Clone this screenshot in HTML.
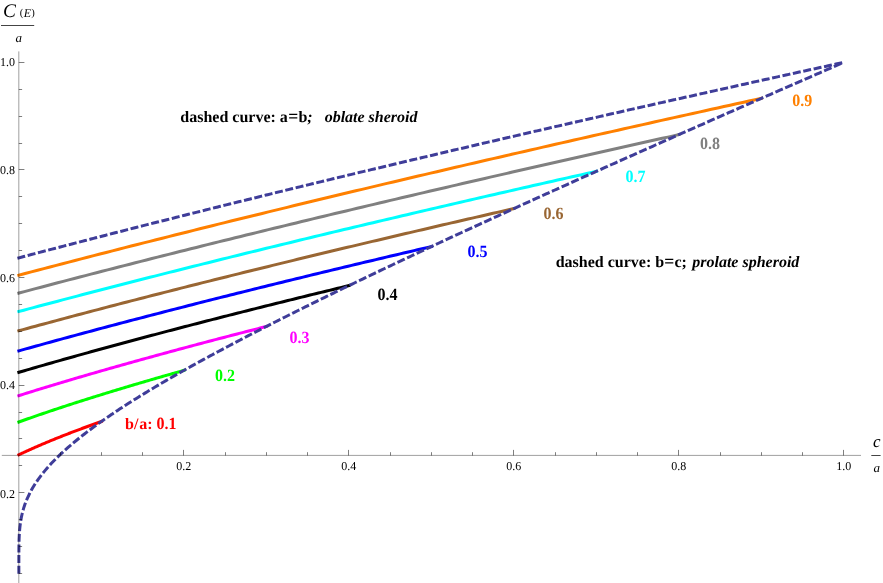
<!DOCTYPE html>
<html><head><meta charset="utf-8"><title>Capacitance of ellipsoid</title>
<style>
html,body{margin:0;padding:0;background:#fff;}
body{width:883px;height:583px;overflow:hidden;font-family:"Liberation Serif",serif;}
svg{display:block;will-change:transform;text-rendering:geometricPrecision;}
text{font-family:"Liberation Serif",serif;white-space:pre;}
.t{font-size:12px;fill:#000;}
.b{font-size:16px;font-weight:bold;}
.bi{font-style:italic;font-weight:bold;}
.i{font-style:italic;fill:#000;}
.r{fill:#000;}
</style></head>
<body>
<svg width="883" height="583" viewBox="0 0 883 583">
<rect width="883" height="583" fill="#ffffff"/>
<path d="M18.85,454.77 L19.54,454.44 L20.24,454.11 L20.93,453.79 L21.62,453.46 L22.32,453.13 L23.01,452.81 L23.70,452.49 L24.40,452.17 L25.09,451.85 L25.78,451.53 L26.48,451.21 L27.17,450.89 L27.86,450.57 L28.56,450.26 L29.25,449.95 L29.94,449.63 L30.64,449.32 L31.33,449.01 L32.02,448.70 L32.72,448.39 L33.41,448.09 L34.10,447.78 L34.80,447.47 L35.49,447.17 L36.18,446.87 L36.88,446.56 L37.57,446.26 L38.26,445.96 L38.96,445.66 L39.65,445.36 L40.34,445.07 L41.03,444.77 L41.73,444.47 L42.42,444.18 L43.11,443.88 L43.81,443.59 L44.50,443.30 L45.19,443.01 L45.89,442.71 L46.58,442.42 L47.27,442.13 L47.97,441.85 L48.66,441.56 L49.35,441.27 L50.05,440.98 L50.74,440.70 L51.43,440.41 L52.13,440.13 L52.82,439.85 L53.51,439.56 L54.21,439.28 L54.90,439.00 L55.59,438.72 L56.29,438.44 L56.98,438.16 L57.67,437.88 L58.37,437.61 L59.06,437.33 L59.75,437.05 L60.45,436.78 L61.14,436.50 L61.83,436.23 L62.53,435.96 L63.22,435.68 L63.91,435.41 L64.61,435.14 L65.30,434.87 L65.99,434.60 L66.69,434.33 L67.38,434.06 L68.07,433.79 L68.77,433.52 L69.46,433.25 L70.15,432.99 L70.85,432.72 L71.54,432.45 L72.23,432.19 L72.93,431.92 L73.62,431.66 L74.31,431.40 L75.01,431.13 L75.70,430.87 L76.39,430.61 L77.09,430.35 L77.78,430.09 L78.47,429.83 L79.17,429.57 L79.86,429.31 L80.55,429.05 L81.24,428.79 L81.94,428.53 L82.63,428.28 L83.32,428.02 L84.02,427.76 L84.71,427.51 L85.40,427.25 L86.10,427.00 L86.79,426.75 L87.48,426.49 L88.18,426.24 L88.87,425.99 L89.56,425.73 L90.26,425.48 L90.95,425.23 L91.64,424.98 L92.34,424.73 L93.03,424.48 L93.72,424.23 L94.42,423.98 L95.11,423.73 L95.80,423.48 L96.50,423.23 L97.19,422.99 L97.88,422.74 L98.58,422.49 L99.27,422.25 L99.96,422.00 L100.66,421.76 L101.35,421.51" fill="none" stroke="#ff0000" stroke-width="3.0" stroke-linejoin="round" stroke-linecap="square"/>
<path d="M18.85,421.97 L20.24,421.48 L21.62,420.98 L23.01,420.49 L24.40,420.00 L25.78,419.51 L27.17,419.02 L28.56,418.53 L29.94,418.05 L31.33,417.56 L32.72,417.08 L34.10,416.60 L35.49,416.12 L36.88,415.64 L38.26,415.17 L39.65,414.69 L41.03,414.22 L42.42,413.74 L43.81,413.27 L45.19,412.80 L46.58,412.33 L47.97,411.86 L49.35,411.40 L50.74,410.93 L52.13,410.47 L53.51,410.00 L54.90,409.54 L56.29,409.08 L57.67,408.62 L59.06,408.16 L60.45,407.71 L61.83,407.25 L63.22,406.79 L64.61,406.34 L65.99,405.89 L67.38,405.44 L68.77,404.98 L70.15,404.53 L71.54,404.09 L72.93,403.64 L74.31,403.19 L75.70,402.75 L77.09,402.30 L78.47,401.86 L79.86,401.41 L81.24,400.97 L82.63,400.53 L84.02,400.09 L85.40,399.65 L86.79,399.21 L88.18,398.78 L89.56,398.34 L90.95,397.90 L92.34,397.47 L93.72,397.04 L95.11,396.60 L96.50,396.17 L97.88,395.74 L99.27,395.31 L100.66,394.88 L102.04,394.45 L103.43,394.02 L104.82,393.60 L106.20,393.17 L107.59,392.75 L108.98,392.32 L110.36,391.90 L111.75,391.47 L113.14,391.05 L114.52,390.63 L115.91,390.21 L117.30,389.79 L118.68,389.37 L120.07,388.95 L121.46,388.53 L122.84,388.12 L124.23,387.70 L125.61,387.29 L127.00,386.87 L128.39,386.46 L129.77,386.04 L131.16,385.63 L132.55,385.22 L133.93,384.81 L135.32,384.40 L136.71,383.99 L138.09,383.58 L139.48,383.17 L140.87,382.76 L142.25,382.35 L143.64,381.95 L145.03,381.54 L146.41,381.13 L147.80,380.73 L149.19,380.32 L150.57,379.92 L151.96,379.52 L153.35,379.12 L154.73,378.71 L156.12,378.31 L157.51,377.91 L158.89,377.51 L160.28,377.11 L161.67,376.71 L163.05,376.31 L164.44,375.92 L165.82,375.52 L167.21,375.12 L168.60,374.73 L169.98,374.33 L171.37,373.94 L172.76,373.54 L174.14,373.15 L175.53,372.76 L176.92,372.36 L178.30,371.97 L179.69,371.58 L181.08,371.19 L182.46,370.80 L183.85,370.41" fill="none" stroke="#00ff00" stroke-width="3.0" stroke-linejoin="round" stroke-linecap="square"/>
<path d="M18.85,395.61 L20.93,394.96 L23.01,394.31 L25.09,393.66 L27.17,393.01 L29.25,392.36 L31.33,391.72 L33.41,391.07 L35.49,390.43 L37.57,389.79 L39.65,389.15 L41.73,388.52 L43.81,387.88 L45.89,387.25 L47.97,386.62 L50.05,385.99 L52.13,385.36 L54.21,384.73 L56.29,384.11 L58.37,383.48 L60.45,382.86 L62.53,382.24 L64.61,381.62 L66.69,381.00 L68.77,380.38 L70.85,379.76 L72.93,379.15 L75.01,378.54 L77.09,377.93 L79.17,377.31 L81.24,376.71 L83.32,376.10 L85.40,375.49 L87.48,374.89 L89.56,374.28 L91.64,373.68 L93.72,373.08 L95.80,372.48 L97.88,371.88 L99.96,371.28 L102.04,370.68 L104.12,370.09 L106.20,369.49 L108.28,368.90 L110.36,368.30 L112.44,367.71 L114.52,367.12 L116.60,366.53 L118.68,365.95 L120.76,365.36 L122.84,364.77 L124.92,364.19 L127.00,363.60 L129.08,363.02 L131.16,362.44 L133.24,361.86 L135.32,361.28 L137.40,360.70 L139.48,360.12 L141.56,359.55 L143.64,358.97 L145.72,358.40 L147.80,357.82 L149.88,357.25 L151.96,356.68 L154.04,356.11 L156.12,355.53 L158.20,354.97 L160.28,354.40 L162.36,353.83 L164.44,353.26 L166.52,352.70 L168.60,352.13 L170.68,351.57 L172.76,351.01 L174.84,350.44 L176.92,349.88 L179.00,349.32 L181.08,348.76 L183.16,348.20 L185.24,347.64 L187.32,347.09 L189.40,346.53 L191.48,345.98 L193.56,345.42 L195.64,344.87 L197.72,344.31 L199.80,343.76 L201.88,343.21 L203.96,342.66 L206.03,342.11 L208.11,341.56 L210.19,341.01 L212.27,340.46 L214.35,339.91 L216.43,339.37 L218.51,338.82 L220.59,338.28 L222.67,337.73 L224.75,337.19 L226.83,336.65 L228.91,336.10 L230.99,335.56 L233.07,335.02 L235.15,334.48 L237.23,333.94 L239.31,333.40 L241.39,332.87 L243.47,332.33 L245.55,331.79 L247.63,331.26 L249.71,330.72 L251.79,330.19 L253.87,329.65 L255.95,329.12 L258.03,328.59 L260.11,328.05 L262.19,327.52 L264.27,326.99 L266.35,326.46" fill="none" stroke="#ff00ff" stroke-width="3.0" stroke-linejoin="round" stroke-linecap="square"/>
<path d="M18.85,372.31 L21.62,371.50 L24.40,370.69 L27.17,369.89 L29.94,369.08 L32.72,368.28 L35.49,367.48 L38.26,366.68 L41.03,365.88 L43.81,365.08 L46.58,364.29 L49.35,363.50 L52.13,362.71 L54.90,361.92 L57.67,361.13 L60.45,360.35 L63.22,359.56 L65.99,358.78 L68.77,358.00 L71.54,357.23 L74.31,356.45 L77.09,355.67 L79.86,354.90 L82.63,354.13 L85.40,353.36 L88.18,352.59 L90.95,351.82 L93.72,351.06 L96.50,350.29 L99.27,349.53 L102.04,348.77 L104.82,348.01 L107.59,347.25 L110.36,346.50 L113.14,345.74 L115.91,344.99 L118.68,344.24 L121.46,343.49 L124.23,342.74 L127.00,341.99 L129.77,341.24 L132.55,340.50 L135.32,339.75 L138.09,339.01 L140.87,338.27 L143.64,337.53 L146.41,336.79 L149.19,336.05 L151.96,335.31 L154.73,334.58 L157.51,333.84 L160.28,333.11 L163.05,332.38 L165.82,331.65 L168.60,330.92 L171.37,330.19 L174.14,329.46 L176.92,328.74 L179.69,328.01 L182.46,327.29 L185.24,326.57 L188.01,325.84 L190.78,325.12 L193.56,324.40 L196.33,323.69 L199.10,322.97 L201.88,322.25 L204.65,321.54 L207.42,320.82 L210.19,320.11 L212.97,319.40 L215.74,318.69 L218.51,317.98 L221.29,317.27 L224.06,316.56 L226.83,315.86 L229.61,315.15 L232.38,314.45 L235.15,313.74 L237.93,313.04 L240.70,312.34 L243.47,311.64 L246.24,310.94 L249.02,310.24 L251.79,309.54 L254.56,308.84 L257.34,308.15 L260.11,307.45 L262.88,306.76 L265.66,306.06 L268.43,305.37 L271.20,304.68 L273.98,303.99 L276.75,303.30 L279.52,302.61 L282.30,301.92 L285.07,301.23 L287.84,300.54 L290.61,299.86 L293.39,299.17 L296.16,298.49 L298.93,297.81 L301.71,297.12 L304.48,296.44 L307.25,295.76 L310.03,295.08 L312.80,294.40 L315.57,293.72 L318.35,293.05 L321.12,292.37 L323.89,291.69 L326.67,291.02 L329.44,290.34 L332.21,289.67 L334.98,289.00 L337.76,288.32 L340.53,287.65 L343.30,286.98 L346.08,286.31 L348.85,285.64" fill="none" stroke="#000000" stroke-width="3.0" stroke-linejoin="round" stroke-linecap="square"/>
<path d="M18.85,350.87 L22.32,349.90 L25.78,348.93 L29.25,347.97 L32.72,347.00 L36.18,346.04 L39.65,345.08 L43.11,344.12 L46.58,343.17 L50.05,342.21 L53.51,341.26 L56.98,340.31 L60.45,339.37 L63.91,338.42 L67.38,337.48 L70.85,336.54 L74.31,335.60 L77.78,334.66 L81.24,333.72 L84.71,332.79 L88.18,331.86 L91.64,330.93 L95.11,330.00 L98.58,329.07 L102.04,328.15 L105.51,327.23 L108.98,326.31 L112.44,325.39 L115.91,324.47 L119.38,323.55 L122.84,322.64 L126.31,321.73 L129.77,320.82 L133.24,319.91 L136.71,319.00 L140.17,318.09 L143.64,317.19 L147.11,316.29 L150.57,315.39 L154.04,314.49 L157.51,313.59 L160.97,312.69 L164.44,311.80 L167.90,310.90 L171.37,310.01 L174.84,309.12 L178.30,308.23 L181.77,307.34 L185.24,306.46 L188.70,305.57 L192.17,304.69 L195.64,303.80 L199.10,302.92 L202.57,302.04 L206.03,301.17 L209.50,300.29 L212.97,299.41 L216.43,298.54 L219.90,297.67 L223.37,296.80 L226.83,295.93 L230.30,295.06 L233.77,294.19 L237.23,293.32 L240.70,292.46 L244.17,291.59 L247.63,290.73 L251.10,289.87 L254.56,289.01 L258.03,288.15 L261.50,287.29 L264.96,286.44 L268.43,285.58 L271.90,284.73 L275.36,283.87 L278.83,283.02 L282.30,282.17 L285.76,281.32 L289.23,280.47 L292.69,279.62 L296.16,278.78 L299.63,277.93 L303.09,277.09 L306.56,276.25 L310.03,275.40 L313.49,274.56 L316.96,273.72 L320.43,272.88 L323.89,272.05 L327.36,271.21 L330.82,270.37 L334.29,269.54 L337.76,268.71 L341.22,267.87 L344.69,267.04 L348.16,266.21 L351.62,265.38 L355.09,264.55 L358.56,263.73 L362.02,262.90 L365.49,262.07 L368.96,261.25 L372.42,260.43 L375.89,259.60 L379.35,258.78 L382.82,257.96 L386.29,257.14 L389.75,256.32 L393.22,255.50 L396.69,254.69 L400.15,253.87 L403.62,253.05 L407.09,252.24 L410.55,251.43 L414.02,250.61 L417.48,249.80 L420.95,248.99 L424.42,248.18 L427.88,247.37 L431.35,246.56" fill="none" stroke="#0000ff" stroke-width="3.0" stroke-linejoin="round" stroke-linecap="square"/>
<path d="M18.85,330.72 L23.01,329.58 L27.17,328.45 L31.33,327.32 L35.49,326.20 L39.65,325.07 L43.81,323.95 L47.97,322.83 L52.13,321.71 L56.29,320.60 L60.45,319.49 L64.61,318.38 L68.77,317.27 L72.93,316.16 L77.09,315.06 L81.24,313.96 L85.40,312.86 L89.56,311.77 L93.72,310.67 L97.88,309.58 L102.04,308.49 L106.20,307.40 L110.36,306.32 L114.52,305.23 L118.68,304.15 L122.84,303.07 L127.00,301.99 L131.16,300.92 L135.32,299.85 L139.48,298.77 L143.64,297.70 L147.80,296.64 L151.96,295.57 L156.12,294.51 L160.28,293.44 L164.44,292.38 L168.60,291.33 L172.76,290.27 L176.92,289.21 L181.08,288.16 L185.24,287.11 L189.40,286.06 L193.56,285.01 L197.72,283.97 L201.88,282.92 L206.03,281.88 L210.19,280.84 L214.35,279.80 L218.51,278.76 L222.67,277.72 L226.83,276.69 L230.99,275.66 L235.15,274.62 L239.31,273.59 L243.47,272.57 L247.63,271.54 L251.79,270.51 L255.95,269.49 L260.11,268.47 L264.27,267.45 L268.43,266.43 L272.59,265.41 L276.75,264.39 L280.91,263.38 L285.07,262.37 L289.23,261.35 L293.39,260.34 L297.55,259.33 L301.71,258.33 L305.87,257.32 L310.03,256.31 L314.19,255.31 L318.35,254.31 L322.51,253.31 L326.67,252.31 L330.82,251.31 L334.98,250.31 L339.14,249.32 L343.30,248.32 L347.46,247.33 L351.62,246.34 L355.78,245.35 L359.94,244.36 L364.10,243.37 L368.26,242.39 L372.42,241.40 L376.58,240.42 L380.74,239.43 L384.90,238.45 L389.06,237.47 L393.22,236.49 L397.38,235.51 L401.54,234.54 L405.70,233.56 L409.86,232.59 L414.02,231.61 L418.18,230.64 L422.34,229.67 L426.50,228.70 L430.66,227.73 L434.82,226.76 L438.98,225.80 L443.14,224.83 L447.30,223.87 L451.46,222.90 L455.61,221.94 L459.77,220.98 L463.93,220.02 L468.09,219.06 L472.25,218.10 L476.41,217.15 L480.57,216.19 L484.73,215.24 L488.89,214.28 L493.05,213.33 L497.21,212.38 L501.37,211.43 L505.53,210.48 L509.69,209.53 L513.85,208.58" fill="none" stroke="#996633" stroke-width="3.0" stroke-linejoin="round" stroke-linecap="square"/>
<path d="M18.85,311.51 L23.70,310.21 L28.56,308.91 L33.41,307.62 L38.26,306.32 L43.11,305.03 L47.97,303.75 L52.82,302.46 L57.67,301.18 L62.53,299.90 L67.38,298.63 L72.23,297.35 L77.09,296.08 L81.94,294.81 L86.79,293.55 L91.64,292.28 L96.50,291.02 L101.35,289.76 L106.20,288.51 L111.06,287.26 L115.91,286.00 L120.76,284.76 L125.61,283.51 L130.47,282.27 L135.32,281.02 L140.17,279.79 L145.03,278.55 L149.88,277.31 L154.73,276.08 L159.59,274.85 L164.44,273.62 L169.29,272.40 L174.14,271.18 L179.00,269.95 L183.85,268.73 L188.70,267.52 L193.56,266.30 L198.41,265.09 L203.26,263.88 L208.11,262.67 L212.97,261.46 L217.82,260.26 L222.67,259.06 L227.53,257.85 L232.38,256.66 L237.23,255.46 L242.09,254.26 L246.94,253.07 L251.79,251.88 L256.64,250.69 L261.50,249.50 L266.35,248.32 L271.20,247.13 L276.06,245.95 L280.91,244.77 L285.76,243.59 L290.61,242.42 L295.47,241.24 L300.32,240.07 L305.17,238.90 L310.03,237.73 L314.88,236.56 L319.73,235.39 L324.59,234.23 L329.44,233.06 L334.29,231.90 L339.14,230.74 L344.00,229.58 L348.85,228.43 L353.70,227.27 L358.56,226.12 L363.41,224.97 L368.26,223.82 L373.11,222.67 L377.97,221.52 L382.82,220.38 L387.67,219.23 L392.53,218.09 L397.38,216.95 L402.23,215.81 L407.09,214.67 L411.94,213.53 L416.79,212.40 L421.64,211.27 L426.50,210.13 L431.35,209.00 L436.20,207.87 L441.06,206.75 L445.91,205.62 L450.76,204.49 L455.61,203.37 L460.47,202.25 L465.32,201.13 L470.17,200.01 L475.03,198.89 L479.88,197.77 L484.73,196.66 L489.59,195.54 L494.44,194.43 L499.29,193.32 L504.14,192.21 L509.00,191.10 L513.85,189.99 L518.70,188.88 L523.56,187.78 L528.41,186.68 L533.26,185.57 L538.11,184.47 L542.97,183.37 L547.82,182.27 L552.67,181.17 L557.53,180.08 L562.38,178.98 L567.23,177.89 L572.09,176.80 L576.94,175.70 L581.79,174.61 L586.64,173.52 L591.50,172.44 L596.35,171.35" fill="none" stroke="#00ffff" stroke-width="3.0" stroke-linejoin="round" stroke-linecap="square"/>
<path d="M18.85,293.05 L24.40,291.58 L29.94,290.11 L35.49,288.64 L41.03,287.18 L46.58,285.72 L52.13,284.26 L57.67,282.81 L63.22,281.36 L68.77,279.91 L74.31,278.47 L79.86,277.03 L85.40,275.59 L90.95,274.15 L96.50,272.72 L102.04,271.29 L107.59,269.87 L113.14,268.44 L118.68,267.02 L124.23,265.60 L129.77,264.19 L135.32,262.78 L140.87,261.37 L146.41,259.96 L151.96,258.56 L157.51,257.16 L163.05,255.76 L168.60,254.36 L174.14,252.97 L179.69,251.58 L185.24,250.19 L190.78,248.80 L196.33,247.42 L201.88,246.04 L207.42,244.66 L212.97,243.28 L218.51,241.91 L224.06,240.54 L229.61,239.17 L235.15,237.80 L240.70,236.44 L246.24,235.08 L251.79,233.72 L257.34,232.36 L262.88,231.00 L268.43,229.65 L273.98,228.30 L279.52,226.95 L285.07,225.60 L290.61,224.26 L296.16,222.92 L301.71,221.58 L307.25,220.24 L312.80,218.90 L318.35,217.57 L323.89,216.24 L329.44,214.91 L334.98,213.58 L340.53,212.25 L346.08,210.93 L351.62,209.61 L357.17,208.29 L362.72,206.97 L368.26,205.65 L373.81,204.34 L379.35,203.03 L384.90,201.72 L390.45,200.41 L395.99,199.10 L401.54,197.80 L407.09,196.49 L412.63,195.19 L418.18,193.89 L423.72,192.60 L429.27,191.30 L434.82,190.01 L440.36,188.71 L445.91,187.42 L451.46,186.14 L457.00,184.85 L462.55,183.56 L468.09,182.28 L473.64,181.00 L479.19,179.72 L484.73,178.44 L490.28,177.16 L495.82,175.89 L501.37,174.61 L506.92,173.34 L512.46,172.07 L518.01,170.80 L523.56,169.53 L529.10,168.27 L534.65,167.00 L540.19,165.74 L545.74,164.48 L551.29,163.22 L556.83,161.96 L562.38,160.70 L567.93,159.45 L573.47,158.20 L579.02,156.94 L584.56,155.69 L590.11,154.44 L595.66,153.20 L601.20,151.95 L606.75,150.70 L612.30,149.46 L617.84,148.22 L623.39,146.98 L628.93,145.74 L634.48,144.50 L640.03,143.27 L645.57,142.03 L651.12,140.80 L656.67,139.56 L662.21,138.33 L667.76,137.10 L673.30,135.88 L678.85,134.65" fill="none" stroke="#808080" stroke-width="3.0" stroke-linejoin="round" stroke-linecap="square"/>
<path d="M18.85,275.20 L25.09,273.55 L31.33,271.90 L37.57,270.26 L43.81,268.62 L50.05,266.99 L56.29,265.36 L62.53,263.73 L68.77,262.11 L75.01,260.49 L81.24,258.88 L87.48,257.26 L93.72,255.65 L99.96,254.05 L106.20,252.45 L112.44,250.85 L118.68,249.25 L124.92,247.66 L131.16,246.07 L137.40,244.49 L143.64,242.91 L149.88,241.33 L156.12,239.75 L162.36,238.18 L168.60,236.61 L174.84,235.04 L181.08,233.48 L187.32,231.92 L193.56,230.36 L199.80,228.81 L206.03,227.25 L212.27,225.71 L218.51,224.16 L224.75,222.62 L230.99,221.08 L237.23,219.54 L243.47,218.00 L249.71,216.47 L255.95,214.94 L262.19,213.42 L268.43,211.89 L274.67,210.37 L280.91,208.85 L287.15,207.34 L293.39,205.82 L299.63,204.31 L305.87,202.80 L312.11,201.30 L318.35,199.79 L324.59,198.29 L330.82,196.79 L337.06,195.30 L343.30,193.80 L349.54,192.31 L355.78,190.82 L362.02,189.34 L368.26,187.85 L374.50,186.37 L380.74,184.89 L386.98,183.41 L393.22,181.94 L399.46,180.46 L405.70,178.99 L411.94,177.52 L418.18,176.06 L424.42,174.59 L430.66,173.13 L436.90,171.67 L443.14,170.21 L449.38,168.76 L455.61,167.30 L461.85,165.85 L468.09,164.40 L474.33,162.95 L480.57,161.51 L486.81,160.07 L493.05,158.62 L499.29,157.18 L505.53,155.75 L511.77,154.31 L518.01,152.88 L524.25,151.45 L530.49,150.02 L536.73,148.59 L542.97,147.16 L549.21,145.74 L555.45,144.31 L561.69,142.89 L567.93,141.48 L574.17,140.06 L580.40,138.64 L586.64,137.23 L592.88,135.82 L599.12,134.41 L605.36,133.00 L611.60,131.60 L617.84,130.19 L624.08,128.79 L630.32,127.39 L636.56,125.99 L642.80,124.59 L649.04,123.20 L655.28,121.80 L661.52,120.41 L667.76,119.02 L674.00,117.63 L680.24,116.24 L686.48,114.85 L692.72,113.47 L698.96,112.09 L705.19,110.71 L711.43,109.33 L717.67,107.95 L723.91,106.57 L730.15,105.20 L736.39,103.82 L742.63,102.45 L748.87,101.08 L755.11,99.71 L761.35,98.35" fill="none" stroke="#ff8000" stroke-width="3.0" stroke-linejoin="round" stroke-linecap="square"/>
<path d="M18.85,572.20 L18.85,572.10 L18.85,572.00 L18.85,571.89 L18.85,571.79 L18.85,571.68 L18.85,571.58 L18.85,571.47 L18.85,571.36 L18.85,571.25 L18.85,571.14 L18.85,571.03 L18.85,570.92 L18.85,570.81 L18.85,570.69 L18.85,570.58 L18.85,570.47 L18.85,570.35 L18.85,570.23 L18.85,570.12 L18.85,570.00 L18.85,569.88 L18.85,569.76 L18.85,569.64 L18.85,569.51 L18.85,569.39 L18.85,569.27 L18.85,569.14 L18.85,569.02 L18.85,568.89 L18.85,568.76 L18.85,568.63 L18.85,568.50 L18.85,568.37 L18.85,568.24 L18.85,568.10 L18.85,567.97 L18.85,567.83 L18.85,567.70 L18.85,567.56 L18.85,567.42 L18.85,567.28 L18.85,567.14 L18.85,566.99 L18.85,566.85 L18.85,566.70 L18.85,566.56 L18.85,566.41 L18.85,566.26 L18.85,566.11 L18.85,565.96 L18.85,565.80 L18.85,565.65 L18.85,565.49 L18.85,565.34 L18.85,565.18 L18.85,565.02 L18.85,564.85 L18.85,564.69 L18.85,564.53 L18.85,564.36 L18.85,564.19 L18.85,564.02 L18.85,563.85 L18.85,563.68 L18.85,563.50 L18.85,563.33 L18.85,563.15 L18.85,562.97 L18.85,562.79 L18.85,562.61 L18.85,562.42 L18.85,562.24 L18.85,562.05 L18.85,561.86 L18.85,561.66 L18.85,561.47 L18.85,561.27 L18.85,561.08 L18.85,560.88 L18.85,560.67 L18.85,560.47 L18.85,560.26 L18.85,560.06 L18.85,559.84 L18.85,559.63 L18.85,559.42 L18.85,559.20 L18.85,558.98 L18.85,558.76 L18.85,558.53 L18.85,558.31 L18.85,558.08 L18.86,557.84 L18.86,557.61 L18.86,557.37 L18.86,557.13 L18.86,556.89 L18.86,556.65 L18.86,556.40 L18.86,556.15 L18.86,555.89 L18.86,555.64 L18.86,555.38 L18.86,555.12 L18.86,554.85 L18.86,554.58 L18.86,554.31 L18.86,554.03 L18.87,553.76 L18.87,553.47 L18.87,553.19 L18.87,552.90 L18.87,552.61 L18.87,552.31 L18.87,552.01 L18.88,551.71 L18.88,551.40 L18.88,551.09 L18.88,550.78 L18.88,550.46 L18.89,550.13 L18.89,549.81 L18.89,549.47 L18.90,549.14 L18.90,548.80 L18.90,548.45 L18.91,548.10 L18.91,547.75 L18.91,547.39 L18.92,547.02 L18.92,546.65 L18.93,546.28 L18.93,545.90 L18.94,545.51 L18.95,545.12 L18.95,544.73 L18.96,544.32 L18.97,543.92 L18.98,543.50 L18.99,543.08 L19.00,542.66 L19.01,542.22 L19.02,541.78 L19.03,541.34 L19.04,540.88 L19.06,540.42 L19.07,539.96 L19.09,539.48 L19.11,539.00 L19.12,538.51 L19.14,538.01 L19.17,537.51 L19.19,537.00 L19.21,536.47 L19.24,535.94 L19.27,535.40 L19.30,534.85 L19.33,534.30 L19.36,533.73 L19.40,533.15 L19.44,532.56 L19.48,531.96 L19.53,531.35 L19.58,530.73 L19.63,530.10 L19.68,529.46 L19.74,528.81 L19.81,528.14 L19.88,527.46 L19.95,526.77 L20.03,526.06 L20.12,525.34 L20.21,524.61 L20.30,523.86 L20.41,523.10 L20.52,522.32 L20.64,521.53 L20.77,520.72 L20.91,519.89 L21.06,519.05 L21.21,518.19 L21.38,517.31 L21.57,516.41 L21.76,515.49 L21.97,514.55 L22.20,513.59 L22.44,512.61 L22.69,511.60 L22.97,510.57 L23.27,509.52 L23.58,508.44 L23.92,507.34 L24.29,506.21 L24.68,505.05 L25.10,503.87 L25.55,502.65 L26.03,501.40 L26.55,500.13 L27.10,498.81 L29.83,493.02 L32.56,488.05 L35.29,483.63 L38.03,479.61 L40.76,475.90 L43.49,472.43 L46.22,469.16 L48.95,466.06 L51.68,463.10 L54.42,460.25 L57.15,457.52 L59.88,454.87 L62.61,452.31 L65.34,449.82 L68.07,447.40 L70.81,445.04 L73.54,442.73 L76.27,440.47 L79.00,438.26 L81.73,436.09 L84.46,433.96 L87.20,431.87 L89.93,429.81 L92.66,427.78 L95.39,425.78 L98.12,423.81 L100.85,421.86 L103.58,419.94 L106.32,418.04 L109.05,416.17 L111.78,414.31 L114.51,412.48 L117.24,410.66 L119.97,408.86 L122.71,407.08 L125.44,405.32 L128.17,403.56 L130.90,401.83 L133.63,400.11 L136.36,398.40 L139.10,396.70 L141.83,395.02 L144.56,393.35 L147.29,391.69 L150.02,390.04 L152.75,388.41 L155.49,386.78 L158.22,385.16 L160.95,383.55 L163.68,381.96 L166.41,380.37 L169.14,378.78 L171.88,377.21 L174.61,375.65 L177.34,374.09 L180.07,372.54 L182.80,371.00 L185.53,369.46 L188.26,367.93 L191.00,366.41 L193.73,364.90 L196.46,363.39 L199.19,361.88 L201.92,360.39 L204.65,358.89 L207.39,357.41 L210.12,355.93 L212.85,354.45 L215.58,352.98 L218.31,351.52 L221.04,350.06 L223.78,348.60 L226.51,347.15 L229.24,345.71 L231.97,344.27 L234.70,342.83 L237.43,341.39 L240.17,339.97 L242.90,338.54 L245.63,337.12 L248.36,335.70 L251.09,334.29 L253.82,332.88 L256.55,331.47 L259.29,330.07 L262.02,328.67 L264.75,327.28 L267.48,325.88 L270.21,324.50 L272.94,323.11 L275.68,321.73 L278.41,320.35 L281.14,318.97 L283.87,317.60 L286.60,316.22 L289.33,314.86 L292.07,313.49 L294.80,312.13 L297.53,310.77 L300.26,309.41 L302.99,308.05 L305.72,306.70 L308.46,305.35 L311.19,304.00 L313.92,302.66 L316.65,301.31 L319.38,299.97 L322.11,298.63 L324.84,297.30 L327.58,295.96 L330.31,294.63 L333.04,293.30 L335.77,291.97 L338.50,290.65 L341.23,289.32 L343.97,288.00 L346.70,286.68 L349.43,285.36 L352.16,284.05 L354.89,282.73 L357.62,281.42 L360.36,280.11 L363.09,278.80 L365.82,277.49 L368.55,276.18 L371.28,274.88 L374.01,273.58 L376.75,272.27 L379.48,270.97 L382.21,269.68 L384.94,268.38 L387.67,267.08 L390.40,265.79 L393.14,264.50 L395.87,263.21 L398.60,261.92 L401.33,260.63 L404.06,259.34 L406.79,258.06 L409.52,256.78 L412.26,255.49 L414.99,254.21 L417.72,252.93 L420.45,251.65 L423.18,250.38 L425.91,249.10 L428.65,247.82 L431.38,246.55 L434.11,245.28 L436.84,244.01 L439.57,242.74 L442.30,241.47 L445.04,240.20 L447.77,238.93 L450.50,237.67 L453.23,236.40 L455.96,235.14 L458.69,233.88 L461.43,232.61 L464.16,231.35 L466.89,230.09 L469.62,228.83 L472.35,227.58 L475.08,226.32 L477.81,225.06 L480.55,223.81 L483.28,222.56 L486.01,221.30 L488.74,220.05 L491.47,218.80 L494.20,217.55 L496.94,216.30 L499.67,215.05 L502.40,213.80 L505.13,212.56 L507.86,211.31 L510.59,210.07 L513.33,208.82 L516.06,207.58 L518.79,206.34 L521.52,205.09 L524.25,203.85 L526.98,202.61 L529.72,201.37 L532.45,200.13 L535.18,198.90 L537.91,197.66 L540.64,196.42 L543.37,195.19 L546.11,193.95 L548.84,192.72 L551.57,191.48 L554.30,190.25 L557.03,189.02 L559.76,187.78 L562.49,186.55 L565.23,185.32 L567.96,184.09 L570.69,182.86 L573.42,181.64 L576.15,180.41 L578.88,179.18 L581.62,177.95 L584.35,176.73 L587.08,175.50 L589.81,174.28 L592.54,173.05 L595.27,171.83 L598.01,170.61 L600.74,169.38 L603.47,168.16 L606.20,166.94 L608.93,165.72 L611.66,164.50 L614.40,163.28 L617.13,162.06 L619.86,160.84 L622.59,159.63 L625.32,158.41 L628.05,157.19 L630.78,155.97 L633.52,154.76 L636.25,153.54 L638.98,152.33 L641.71,151.11 L644.44,149.90 L647.17,148.69 L649.91,147.47 L652.64,146.26 L655.37,145.05 L658.10,143.84 L660.83,142.63 L663.56,141.41 L666.30,140.20 L669.03,138.99 L671.76,137.79 L674.49,136.58 L677.22,135.37 L679.95,134.16 L682.69,132.95 L685.42,131.75 L688.15,130.54 L690.88,129.33 L693.61,128.13 L696.34,126.92 L699.07,125.72 L701.81,124.51 L704.54,123.31 L707.27,122.10 L710.00,120.90 L712.73,119.70 L715.46,118.49 L718.20,117.29 L720.93,116.09 L723.66,114.89 L726.39,113.69 L729.12,112.49 L731.85,111.29 L734.59,110.09 L737.32,108.89 L740.05,107.69 L742.78,106.49 L745.51,105.29 L748.24,104.09 L750.98,102.89 L753.71,101.70 L756.44,100.50 L759.17,99.30 L761.90,98.10 L764.63,96.91 L767.37,95.71 L770.10,94.52 L772.83,93.32 L775.56,92.13 L778.29,90.93 L781.02,89.74 L783.75,88.54 L786.49,87.35 L789.22,86.16 L791.95,84.96 L794.68,83.77 L797.41,82.58 L800.14,81.39 L802.88,80.19 L805.61,79.00 L808.34,77.81 L811.07,76.62 L813.80,75.43 L816.53,74.24 L819.27,73.05 L822.00,71.86 L824.73,70.67 L827.46,69.48 L830.19,68.29 L832.92,67.10 L835.66,65.91 L838.39,64.73 L841.12,63.54 L843.85,62.35" fill="none" stroke="#3f3d99" stroke-width="3.0" stroke-dasharray="5 5.63" stroke-linecap="square" stroke-linejoin="round"/>
<path d="M18.85,257.85 L23.00,256.75 L27.14,255.66 L31.29,254.57 L35.43,253.48 L39.58,252.39 L43.72,251.30 L47.87,250.22 L52.02,249.13 L56.16,248.05 L60.31,246.97 L64.45,245.89 L68.60,244.81 L72.74,243.74 L76.89,242.66 L81.04,241.59 L85.18,240.52 L89.33,239.45 L93.47,238.38 L97.62,237.31 L101.76,236.25 L105.91,235.18 L110.06,234.12 L114.20,233.06 L118.35,232.00 L122.49,230.94 L126.64,229.88 L130.78,228.83 L134.93,227.77 L139.08,226.72 L143.22,225.67 L147.37,224.62 L151.51,223.57 L155.66,222.52 L159.80,221.47 L163.95,220.43 L168.10,219.38 L172.24,218.34 L176.39,217.30 L180.53,216.26 L184.68,215.22 L188.82,214.18 L192.97,213.14 L197.12,212.11 L201.26,211.07 L205.41,210.04 L209.55,209.01 L213.70,207.98 L217.84,206.95 L221.99,205.92 L226.14,204.90 L230.28,203.87 L234.43,202.85 L238.57,201.82 L242.72,200.80 L246.87,199.78 L251.01,198.76 L255.16,197.74 L259.30,196.72 L263.45,195.71 L267.59,194.69 L271.74,193.68 L275.89,192.67 L280.03,191.65 L284.18,190.64 L288.32,189.63 L292.47,188.62 L296.61,187.62 L300.76,186.61 L304.91,185.60 L309.05,184.60 L313.20,183.60 L317.34,182.60 L321.49,181.59 L325.63,180.59 L329.78,179.59 L333.93,178.60 L338.07,177.60 L342.22,176.60 L346.36,175.61 L350.51,174.61 L354.65,173.62 L358.80,172.63 L362.95,171.64 L367.09,170.65 L371.24,169.66 L375.38,168.67 L379.53,167.69 L383.67,166.70 L387.82,165.71 L391.97,164.73 L396.11,163.75 L400.26,162.76 L404.40,161.78 L408.55,160.80 L412.69,159.82 L416.84,158.84 L420.99,157.87 L425.13,156.89 L429.28,155.92 L433.42,154.94 L437.57,153.97 L441.71,152.99 L445.86,152.02 L450.01,151.05 L454.15,150.08 L458.30,149.11 L462.44,148.14 L466.59,147.17 L470.73,146.21 L474.88,145.24 L479.03,144.28 L483.17,143.31 L487.32,142.35 L491.46,141.39 L495.61,140.43 L499.75,139.46 L503.90,138.50 L508.05,137.55 L512.19,136.59 L516.34,135.63 L520.48,134.67 L524.63,133.72 L528.77,132.76 L532.92,131.81 L537.07,130.86 L541.21,129.90 L545.36,128.95 L549.50,128.00 L553.65,127.05 L557.79,126.10 L561.94,125.15 L566.09,124.21 L570.23,123.26 L574.38,122.31 L578.52,121.37 L582.67,120.42 L586.81,119.48 L590.96,118.54 L595.11,117.59 L599.25,116.65 L603.40,115.71 L607.54,114.77 L611.69,113.83 L615.83,112.89 L619.98,111.96 L624.13,111.02 L628.27,110.08 L632.42,109.15 L636.56,108.21 L640.71,107.28 L644.86,106.35 L649.00,105.41 L653.15,104.48 L657.29,103.55 L661.44,102.62 L665.58,101.69 L669.73,100.76 L673.88,99.83 L678.02,98.90 L682.17,97.98 L686.31,97.05 L690.46,96.13 L694.60,95.20 L698.75,94.28 L702.90,93.35 L707.04,92.43 L711.19,91.51 L715.33,90.59 L719.48,89.67 L723.62,88.75 L727.77,87.83 L731.92,86.91 L736.06,85.99 L740.21,85.07 L744.35,84.16 L748.50,83.24 L752.64,82.33 L756.79,81.41 L760.94,80.50 L765.08,79.58 L769.23,78.67 L773.37,77.76 L777.52,76.85 L781.66,75.94 L785.81,75.03 L789.96,74.12 L794.10,73.21 L798.25,72.30 L802.39,71.39 L806.54,70.49 L810.68,69.58 L814.83,68.67 L818.98,67.77 L823.12,66.86 L827.27,65.96 L831.41,65.06 L835.56,64.15 L839.70,63.25 L843.85,62.35" fill="none" stroke="#3f3d99" stroke-width="3.0" stroke-dasharray="5 5.63" stroke-linecap="square" stroke-linejoin="round"/>
<line x1="1.8" y1="455.4" x2="861" y2="455.4" stroke="#000000" stroke-opacity="0.4" stroke-width="0.95"/>
<line x1="18.82" y1="51.4" x2="18.82" y2="583" stroke="#000000" stroke-opacity="0.4" stroke-width="0.95"/>
<line x1="60.50" y1="455.5" x2="60.50" y2="452.20" stroke="#000000" stroke-opacity="0.5" stroke-width="1"/>
<line x1="101.50" y1="455.5" x2="101.50" y2="452.20" stroke="#000000" stroke-opacity="0.5" stroke-width="1"/>
<line x1="142.50" y1="455.5" x2="142.50" y2="452.20" stroke="#000000" stroke-opacity="0.5" stroke-width="1"/>
<line x1="183.50" y1="455.5" x2="183.50" y2="449.90" stroke="#000000" stroke-opacity="0.5" stroke-width="1"/>
<line x1="225.50" y1="455.5" x2="225.50" y2="452.20" stroke="#000000" stroke-opacity="0.5" stroke-width="1"/>
<line x1="266.50" y1="455.5" x2="266.50" y2="452.20" stroke="#000000" stroke-opacity="0.5" stroke-width="1"/>
<line x1="307.50" y1="455.5" x2="307.50" y2="452.20" stroke="#000000" stroke-opacity="0.5" stroke-width="1"/>
<line x1="348.50" y1="455.5" x2="348.50" y2="449.90" stroke="#000000" stroke-opacity="0.5" stroke-width="1"/>
<line x1="390.50" y1="455.5" x2="390.50" y2="452.20" stroke="#000000" stroke-opacity="0.5" stroke-width="1"/>
<line x1="431.50" y1="455.5" x2="431.50" y2="452.20" stroke="#000000" stroke-opacity="0.5" stroke-width="1"/>
<line x1="472.50" y1="455.5" x2="472.50" y2="452.20" stroke="#000000" stroke-opacity="0.5" stroke-width="1"/>
<line x1="513.50" y1="455.5" x2="513.50" y2="449.90" stroke="#000000" stroke-opacity="0.5" stroke-width="1"/>
<line x1="555.50" y1="455.5" x2="555.50" y2="452.20" stroke="#000000" stroke-opacity="0.5" stroke-width="1"/>
<line x1="596.50" y1="455.5" x2="596.50" y2="452.20" stroke="#000000" stroke-opacity="0.5" stroke-width="1"/>
<line x1="637.50" y1="455.5" x2="637.50" y2="452.20" stroke="#000000" stroke-opacity="0.5" stroke-width="1"/>
<line x1="678.50" y1="455.5" x2="678.50" y2="449.90" stroke="#000000" stroke-opacity="0.5" stroke-width="1"/>
<line x1="720.50" y1="455.5" x2="720.50" y2="452.20" stroke="#000000" stroke-opacity="0.5" stroke-width="1"/>
<line x1="761.50" y1="455.5" x2="761.50" y2="452.20" stroke="#000000" stroke-opacity="0.5" stroke-width="1"/>
<line x1="802.50" y1="455.5" x2="802.50" y2="452.20" stroke="#000000" stroke-opacity="0.5" stroke-width="1"/>
<line x1="843.50" y1="455.5" x2="843.50" y2="449.90" stroke="#000000" stroke-opacity="0.5" stroke-width="1"/>
<line x1="18.82" y1="573.50" x2="22.12" y2="573.50" stroke="#000000" stroke-opacity="0.5" stroke-width="1"/>
<line x1="18.82" y1="546.50" x2="22.12" y2="546.50" stroke="#000000" stroke-opacity="0.5" stroke-width="1"/>
<line x1="18.82" y1="519.50" x2="22.12" y2="519.50" stroke="#000000" stroke-opacity="0.5" stroke-width="1"/>
<line x1="18.82" y1="492.50" x2="24.42" y2="492.50" stroke="#000000" stroke-opacity="0.5" stroke-width="1"/>
<line x1="18.82" y1="465.50" x2="22.12" y2="465.50" stroke="#000000" stroke-opacity="0.5" stroke-width="1"/>
<line x1="18.82" y1="438.50" x2="22.12" y2="438.50" stroke="#000000" stroke-opacity="0.5" stroke-width="1"/>
<line x1="18.82" y1="412.50" x2="22.12" y2="412.50" stroke="#000000" stroke-opacity="0.5" stroke-width="1"/>
<line x1="18.82" y1="385.50" x2="24.42" y2="385.50" stroke="#000000" stroke-opacity="0.5" stroke-width="1"/>
<line x1="18.82" y1="358.50" x2="22.12" y2="358.50" stroke="#000000" stroke-opacity="0.5" stroke-width="1"/>
<line x1="18.82" y1="331.50" x2="22.12" y2="331.50" stroke="#000000" stroke-opacity="0.5" stroke-width="1"/>
<line x1="18.82" y1="304.50" x2="22.12" y2="304.50" stroke="#000000" stroke-opacity="0.5" stroke-width="1"/>
<line x1="18.82" y1="277.50" x2="24.42" y2="277.50" stroke="#000000" stroke-opacity="0.5" stroke-width="1"/>
<line x1="18.82" y1="250.50" x2="22.12" y2="250.50" stroke="#000000" stroke-opacity="0.5" stroke-width="1"/>
<line x1="18.82" y1="223.50" x2="22.12" y2="223.50" stroke="#000000" stroke-opacity="0.5" stroke-width="1"/>
<line x1="18.82" y1="196.50" x2="22.12" y2="196.50" stroke="#000000" stroke-opacity="0.5" stroke-width="1"/>
<line x1="18.82" y1="169.50" x2="24.42" y2="169.50" stroke="#000000" stroke-opacity="0.5" stroke-width="1"/>
<line x1="18.82" y1="143.50" x2="22.12" y2="143.50" stroke="#000000" stroke-opacity="0.5" stroke-width="1"/>
<line x1="18.82" y1="116.50" x2="22.12" y2="116.50" stroke="#000000" stroke-opacity="0.5" stroke-width="1"/>
<line x1="18.82" y1="89.50" x2="22.12" y2="89.50" stroke="#000000" stroke-opacity="0.5" stroke-width="1"/>
<line x1="18.82" y1="62.50" x2="24.42" y2="62.50" stroke="#000000" stroke-opacity="0.5" stroke-width="1"/>
<text x="183.80" y="470.3" text-anchor="middle" class="t">0.2</text>
<text x="348.80" y="470.3" text-anchor="middle" class="t">0.4</text>
<text x="513.80" y="470.3" text-anchor="middle" class="t">0.6</text>
<text x="678.80" y="470.3" text-anchor="middle" class="t">0.8</text>
<text x="843.80" y="470.3" text-anchor="middle" class="t">1.0</text>
<text x="14.9" y="497.55" text-anchor="end" class="t">0.2</text>
<text x="14.9" y="389.05" text-anchor="end" class="t">0.4</text>
<text x="14.9" y="282.15" text-anchor="end" class="t">0.6</text>
<text x="14.9" y="173.85" text-anchor="end" class="t">0.8</text>
<text x="14.9" y="66.25" text-anchor="end" class="t">1.0</text>
<text x="125.1" y="429" class="b" fill="#ff0000">b/<tspan dx="0.8">a:</tspan></text>
<text transform="translate(156.6,429) scale(1,1.07)" class="b" fill="#ff0000">0.1</text>
<text transform="translate(214.9,381) scale(1,1.07)" class="b" fill="#00ff00">0.2</text>
<text transform="translate(289.5,343) scale(1,1.07)" class="b" fill="#ff00ff">0.3</text>
<text transform="translate(377.4,300) scale(1,1.07)" class="b" fill="#000000">0.4</text>
<text transform="translate(467.6,257) scale(1,1.07)" class="b" fill="#0000ff">0.5</text>
<text transform="translate(543.5,219) scale(1,1.07)" class="b" fill="#996633">0.6</text>
<text transform="translate(625.6,182) scale(1,1.07)" class="b" fill="#00ffff">0.7</text>
<text transform="translate(700.1,149) scale(1,1.07)" class="b" fill="#808080">0.8</text>
<text transform="translate(792.3,106) scale(1,1.07)" class="b" fill="#ff8000">0.9</text>
<text x="180.3" y="122.1" class="b" xml:space="preserve">dashed curve: a<tspan font-size="17.6" dx="0.3">=</tspan><tspan dx="0.2">b</tspan><tspan class="bi">;   oblate sheroid</tspan></text>
<text x="555.7" y="267" class="b" xml:space="preserve">dashed curve: b<tspan font-size="17.6" dx="0.1">=</tspan><tspan dx="0.1">c</tspan>;<tspan class="bi" dx="1.4"> prolate spheroid</tspan></text>
<text x="2.9" y="16.7" class="i" font-size="19.3">C</text>
<text x="19.7" y="16.2" class="r" font-size="10.6">(<tspan class="i" font-size="11.9" dy="0.5" dx="0.4">E</tspan><tspan dy="-0.5" dx="0.4">)</tspan></text>
<line x1="1" y1="25.5" x2="34.2" y2="25.5" stroke="#444" stroke-width="1"/>
<text x="15.5" y="42" class="i" font-size="13">a</text>
<text x="873.0" y="446.8" class="i" font-size="17">c</text>
<line x1="871.3" y1="455.5" x2="880.6" y2="455.5" stroke="#444" stroke-width="1"/>
<text x="873.5" y="472.0" class="i" font-size="13">a</text>
</svg>
</body></html>
